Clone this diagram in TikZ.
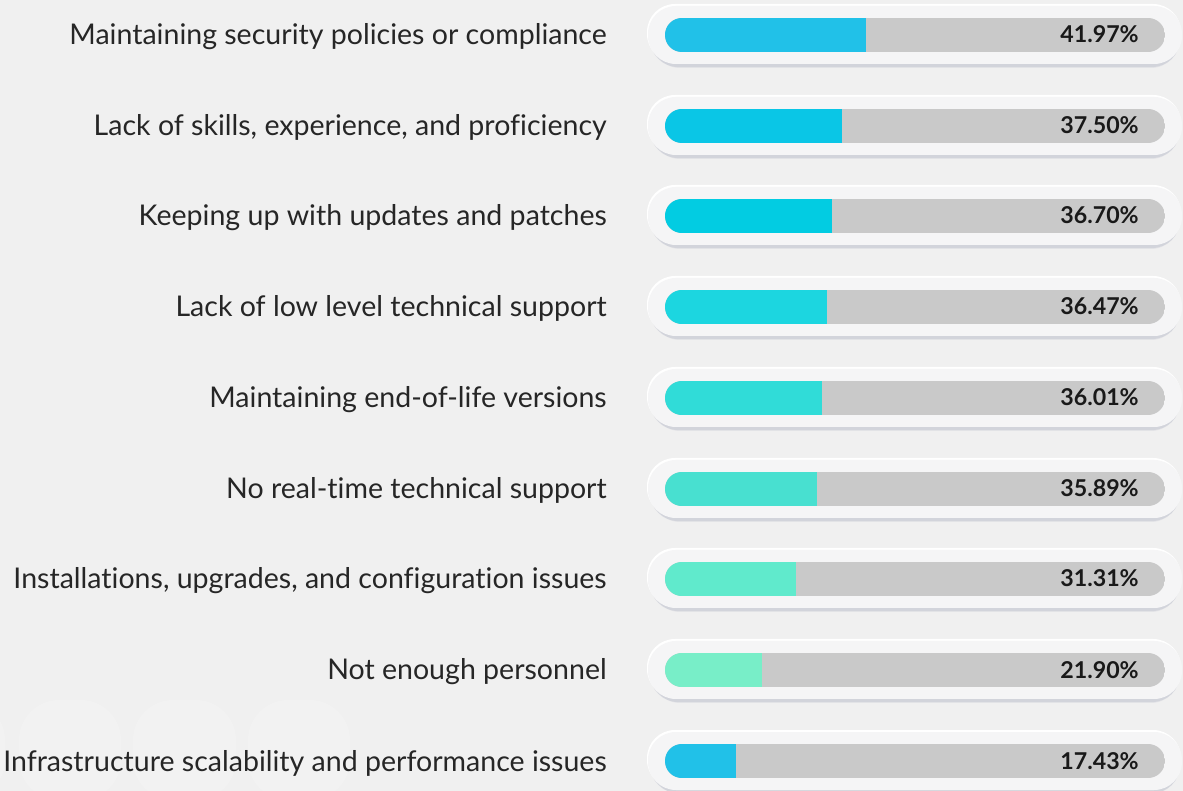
\documentclass[tikz,border=0pt]{standalone}
\usepackage{fontspec}
\setmainfont{Lato}[Ligatures=NoCommon]
\definecolor{bgcol}{RGB}{240,240,240}
\definecolor{pillcol}{RGB}{245,245,246}
\definecolor{shadcol}{RGB}{196,198,210}
\definecolor{trackcol}{RGB}{201,201,201}
\definecolor{ghostcol}{RGB}{242,242,242}
\definecolor{fillA}{RGB}{33,193,232}
\definecolor{fillB}{RGB}{10,198,230}
\definecolor{fillC}{RGB}{2,204,226}
\definecolor{fillD}{RGB}{28,214,224}
\definecolor{fillE}{RGB}{48,220,216}
\definecolor{fillF}{RGB}{72,224,208}
\definecolor{fillG}{RGB}{96,234,204}
\definecolor{fillH}{RGB}{120,238,200}
\definecolor{fillI}{RGB}{33,193,232}
\newcommand{\barrow}[3]{%
% #1 = centre y, #2 = end of coloured part, #3 = colour
\fill [shadcol, opacity=0.3, rounded corners=22pt] (651,#1-25) rectangle (1180,#1+33);
\fill [shadcol, opacity=0.5, rounded corners=21pt] (650,#1-26) rectangle (1180,#1+32);
\fill [white, rounded corners=21pt] (647,#1-31) rectangle (1181,#1+27);
\fill [pillcol, rounded corners=21pt] (648,#1-29) rectangle (1182,#1+29);
\begin{scope}
\clip [rounded corners=12.7pt] (665,#1-17) rectangle (1165,#1+17);
\fill [trackcol] (665,#1-17) rectangle (1165,#1+17);
\fill [#3] (665,#1-17) rectangle (#2,#1+17);
\end{scope}
}
\begin{document}
\begin{tikzpicture}[x=0.75pt,y=0.75pt,yscale=-1,xscale=1,
  lbl/.style={anchor=base east, inner sep=0pt, font=\fontsize{21.4}{24}\selectfont, text=black!85},
  pct/.style={anchor=base east, inner sep=0pt, font=\fontsize{17.4}{20}\selectfont\bfseries, text=black!90}]
%Background
\fill [bgcol] (0,0) rectangle (1183,791);
\useasboundingbox (0,0) rectangle (1183,791);
%Faint shapes behind the last label
\fill [ghostcol, rounded corners=30pt] (-80,700) rectangle (5,800);
\fill [ghostcol, rounded corners=30pt] (19,700) rectangle (121,800);
\fill [ghostcol, rounded corners=30pt] (133,700) rectangle (236,800);
\fill [ghostcol, rounded corners=30pt] (248,700) rectangle (350,800);

%Row 1
\barrow{35}{866}{fillA}
\node [lbl] (lab1) at (607,45) {Maintaining security policies or compliance};
\node [pct] (val1) at (1139,43) {41.97\%};
%Row 2
\barrow{126}{842}{fillB}
\node [lbl] (lab2) at (607,136) {Lack of skills, experience, and proficiency};
\node [pct] (val2) at (1139,134) {37.50\%};
%Row 3
\barrow{216}{832}{fillC}
\node [lbl] (lab3) at (607,226) {Keeping up with updates and patches};
\node [pct] (val3) at (1139,224) {36.70\%};
%Row 4
\barrow{307}{827}{fillD}
\node [lbl] (lab4) at (607,317) {Lack of low level technical support};
\node [pct] (val4) at (1139,315) {36.47\%};
%Row 5
\barrow{398}{822}{fillE}
\node [lbl] (lab5) at (607,408) {Maintaining end-of-life versions};
\node [pct] (val5) at (1139,406) {36.01\%};
%Row 6
\barrow{489}{817}{fillF}
\node [lbl] (lab6) at (607,499) {No real-time technical support};
\node [pct] (val6) at (1139,497) {35.89\%};
%Row 7
\barrow{579}{796}{fillG}
\node [lbl] (lab7) at (607,589) {Installations, upgrades, and configuration issues};
\node [pct] (val7) at (1139,587) {31.31\%};
%Row 8
\barrow{670}{762}{fillH}
\node [lbl] (lab8) at (607,680) {Not enough personnel};
\node [pct] (val8) at (1139,678) {21.90\%};
%Row 9
\barrow{761}{736}{fillI}
\node [lbl] (lab9) at (607,771) {Infrastructure scalability and performance issues};
\node [pct] (val9) at (1139,769) {17.43\%};

\end{tikzpicture}
\end{document}
